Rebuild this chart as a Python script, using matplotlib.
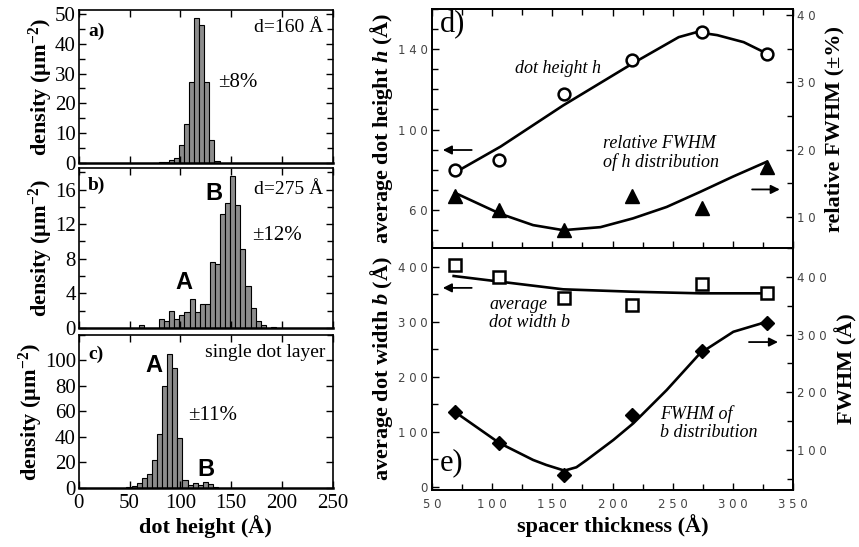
import numpy as np
import matplotlib.pyplot as plt
from matplotlib.ticker import MultipleLocator, FixedLocator, FuncFormatter

plt.rcParams['font.family'] = ['Liberation Serif', 'DejaVu Serif']
plt.rcParams['mathtext.fontset'] = 'custom'
plt.rcParams['mathtext.rm'] = 'Liberation Serif'
plt.rcParams['mathtext.it'] = 'Liberation Serif:italic'
plt.rcParams['mathtext.bf'] = 'Liberation Serif:bold'
plt.rcParams['mathtext.bfit'] = 'Liberation Serif:italic:bold'
plt.rcParams['mathtext.default'] = 'regular'

# ---- histogram data (dot height, bin width 5 A) ----
a_centers = [76, 81, 86, 91, 96, 101, 106, 111, 116, 121, 126, 131, 136]
a_density = [0.1, 0.2, 0.3, 0.9, 1.7, 5.9, 13.0, 27.2, 48.6, 46.4, 27.2, 7.8, 0.8]

b_centers = [61.5, 81.5, 86.5, 91.5, 96.5, 101.5, 106.5, 111.5, 116.5, 121.5, 126.5,
             131.5, 136.5, 141.5, 146.5, 151.5, 156.5, 161.5, 166.5, 171.5, 176.5,
             181.5, 191.5]
b_density = [0.4, 1.0, 0.85, 2.0, 1.0, 1.5, 1.9, 3.3, 1.9, 2.8, 2.8,
             7.6, 7.4, 13.2, 14.5, 17.6, 14.2, 9.1, 4.9, 2.3, 0.85,
             0.4, 0.1]

c_centers = [34.5, 49.5, 54.5, 59.5, 64.5, 69.5, 74.5, 79.5, 84.5, 89.5, 94.5, 99.5,
             104.5, 109.5, 114.5, 119.5, 124.5, 129.5, 134.5]
c_density = [0.3, 0.5, 1.8, 3.9, 7.8, 11.0, 22.0, 42.0, 80.0, 104.7, 94.0, 39.0,
             6.5, 2.6, 3.7, 2.6, 4.4, 3.4, 0.5]

# ---- spacer series ----
spacer = [69, 106, 160, 216, 274, 328]
dot_height = [79.9, 84.8, 117.5, 134.5, 148.6, 137.5]
rel_fwhm_h = [13.15, 11.1, 8.1, 13.2, 11.3, 17.5]
dot_width = [403.6, 381.3, 343.1, 330.9, 369.1, 352.2]
fwhm_b = [166.4, 111.6, 56.6, 160.7, 272.2, 320.7]

# fit curves
h_fit_x = [68, 107, 159, 217, 255, 270, 287, 309, 328]
h_fit_y = [78.2, 91.5, 112.0, 133.0, 146.0, 148.5, 147.0, 143.5, 137.9]
rh_fit_x = [69, 106.5, 134, 159, 190, 217, 245, 273, 300, 328]
rh_fit_y = [13.6, 10.5, 8.8, 8.05, 8.5, 9.8, 11.5, 13.75, 16.0, 18.2]
b_fit_x = [68, 106.5, 159, 217, 273, 328]
b_fit_y = [383.6, 373.3, 359.4, 355.0, 352.1, 352.1]
fb_fit_x = [69, 106, 134, 145, 160, 170, 178.6, 200.7, 217.3, 245, 272.7, 300.4, 328]
fb_fit_y = [166, 112, 82.7, 74, 64.2, 70, 82.7, 117.3, 146.2, 203.8, 267.4, 304.8, 322]

fig = plt.figure(figsize=(8.59, 5.47), dpi=100)

LS = 16   # axis labels
TK = 15   # tick labels, left panels
AN = 14   # annotations, left panels
bar_kw = dict(width=5, color='#8c8c8c', edgecolor='black', linewidth=0.8)


def style_hist(ax, ylim, majors, minor, xlabels=False):
    ax.set_xlim(0, 250)
    ax.set_ylim(*ylim)
    ax.xaxis.set_major_locator(MultipleLocator(50))
    ax.yaxis.set_major_locator(FixedLocator(majors))
    ax.yaxis.set_minor_locator(MultipleLocator(minor))
    ax.tick_params(which='both', direction='in', top=True, right=True,
                   labelsize=TK, width=1, pad=2)
    ax.tick_params(axis='x', pad=4)
    ax.tick_params(which='major', length=5)
    ax.tick_params(which='minor', length=4)
    if not xlabels:
        ax.tick_params(labelbottom=False)
    for s in ax.spines.values():
        s.set_linewidth(1.2)
    ax.spines['bottom'].set_linewidth(1.8)
    ax.set_ylabel('density (µm$^{-2}$)', fontsize=LS, fontweight='bold', labelpad=0)


def letter(ax, x, y, s):
    ax.text(x, y, s, transform=ax.transAxes, fontsize=17, fontweight='bold',
            family='Liberation Sans', ha='center', va='center')


ax_a = fig.add_axes([0.0916, 0.702, 0.296, 0.2797])
ax_a.bar(a_centers, a_density, **bar_kw)
style_hist(ax_a, (0, 51.3), [0, 10, 20, 30, 40, 50], 5)
ax_a.text(0.037, 0.858, 'a)', transform=ax_a.transAxes, fontsize=AN, fontweight='bold', va='center')
ax_a.text(0.961, 0.886, 'd=160 Å', transform=ax_a.transAxes, fontsize=AN, ha='right', va='center')
ax_a.text(0.548, 0.526, '±8%', transform=ax_a.transAxes, fontsize=AN + 1, va='center')

ax_b = fig.add_axes([0.0916, 0.4004, 0.296, 0.2925])
ax_b.bar(b_centers, b_density, **bar_kw)
style_hist(ax_b, (0, 18.5), [0, 4, 8, 12, 16], 2)
ax_b.text(0.037, 0.894, 'b)', transform=ax_b.transAxes, fontsize=AN, fontweight='bold', va='center')
ax_b.text(0.961, 0.866, 'd=275 Å', transform=ax_b.transAxes, fontsize=AN, ha='right', va='center')
ax_b.text(0.681, 0.58, '±12%', transform=ax_b.transAxes, fontsize=AN + 1, va='center')
letter(ax_b, 0.530, 0.8375, 'B')
letter(ax_b, 0.414, 0.284, 'A')

ax_c = fig.add_axes([0.0916, 0.1079, 0.296, 0.2797])
ax_c.bar(c_centers, c_density, **bar_kw)
style_hist(ax_c, (0, 120), [0, 20, 40, 60, 80, 100], 20, xlabels=True)
ax_c.text(0.037, 0.873, 'c)', transform=ax_c.transAxes, fontsize=AN, fontweight='bold', va='center')
ax_c.text(0.972, 0.886, 'single dot layer', transform=ax_c.transAxes, fontsize=AN, ha='right', va='center')
ax_c.text(0.43, 0.474, '±11%', transform=ax_c.transAxes, fontsize=AN + 1, va='center')
letter(ax_c, 0.296, 0.80, 'A')
letter(ax_c, 0.499, 0.121, 'B')
ax_c.set_xlabel('dot height (Å)', fontsize=LS, fontweight='bold', labelpad=2)

# ---- right panels ----
spaced = FuncFormatter(lambda v, p: ' '.join(str(int(round(v)))))
tcol = '#444444'


def style_right(ax, ax2):
    ax.set_xlim(50, 350)
    ax.xaxis.set_major_locator(MultipleLocator(50))
    ax.xaxis.set_minor_locator(MultipleLocator(25))
    for a in (ax, ax2):
        a.tick_params(which='both', direction='in', width=1, colors='black', labelcolor=tcol, pad=3)
        a.tick_params(which='major', length=5)
        a.tick_params(which='minor', length=4)
        for s in a.spines.values():
            s.set_linewidth(1.3)
    ax.yaxis.set_major_formatter(spaced)
    ax2.yaxis.set_major_formatter(spaced)
    ax.xaxis.set_major_formatter(spaced)


arrow_kw = dict(arrowstyle='-|>', color='black', lw=1.3, mutation_scale=13, shrinkA=0, shrinkB=0)

ax_d = fig.add_axes([0.5029, 0.5466, 0.4203, 0.4369])
ax_d2 = ax_d.twinx()
ax_d.plot(h_fit_x, h_fit_y, color='black', lw=1.9)
ax_d.plot(spacer, dot_height, 'o', ms=8.5, mfc='white', mec='black', mew=1.8, clip_on=False)
ax_d2.plot(rh_fit_x, rh_fit_y, color='black', lw=1.9)
ax_d2.plot(spacer, rel_fwhm_h, '^', ms=9.5, color='black', clip_on=False)
ax_d.set_ylim(41, 160)
ax_d2.set_ylim(5.4, 40.9)
ax_d.yaxis.set_major_locator(FixedLocator([60, 100, 140]))
ax_d.yaxis.set_minor_locator(MultipleLocator(10))
ax_d2.yaxis.set_major_locator(MultipleLocator(10))
ax_d2.yaxis.set_minor_locator(MultipleLocator(5))
style_right(ax_d, ax_d2)
ax_d.tick_params(axis='x', which='both', top=True, bottom=True, labelbottom=False)
ax_d.set_ylabel(r'average dot height $\mathbfit{h}$ (Å)', fontsize=LS, fontweight='bold', labelpad=2)
ax_d2.set_ylabel('relative FWHM (±%)', fontsize=LS, fontweight='bold', labelpad=6)
ax_d.text(56.6, 152.4, 'd)', fontsize=22, va='center')
ax_d.text(119, 130.6, 'dot height h', fontsize=13, style='italic', va='center')
ax_d.text(192, 88.3, 'relative FWHM\nof h distribution', fontsize=13, style='italic',
          va='center', linespacing=1.1)
ax_d.annotate('', xy=(59, 89.8), xytext=(83, 89.8), arrowprops=arrow_kw)
ax_d2.annotate('', xy=(339, 14.1), xytext=(316, 14.1), arrowprops=arrow_kw)

ax_e = fig.add_axes([0.5029, 0.1042, 0.4203, 0.4424])
ax_e2 = ax_e.twinx()
ax_e.plot(b_fit_x, b_fit_y, color='black', lw=1.9)
ax_e.plot(spacer, dot_width, 's', ms=8, mfc='white', mec='black', mew=1.8, clip_on=False)
ax_e2.plot(fb_fit_x, fb_fit_y, color='black', lw=1.9)
ax_e2.plot(spacer, fwhm_b, 'D', ms=7.5, color='black', clip_on=False)
ax_e.set_ylim(-5.5, 434.5)
ax_e2.set_ylim(30.6, 450)
ax_e.yaxis.set_major_locator(MultipleLocator(100))
ax_e.yaxis.set_minor_locator(MultipleLocator(50))
ax_e2.yaxis.set_major_locator(MultipleLocator(100))
ax_e2.yaxis.set_minor_locator(MultipleLocator(50))
style_right(ax_e, ax_e2)
ax_e.tick_params(axis='x', which='both', top=False, bottom=True, pad=6)
ax_e.set_ylabel(r'average dot width $\mathbfit{b}$ (Å)', fontsize=LS, fontweight='bold', labelpad=2)
ax_e2.set_ylabel('FWHM (Å)', fontsize=LS, fontweight='bold', labelpad=6)
ax_e.set_xlabel('spacer thickness (Å)', fontsize=LS, fontweight='bold', labelpad=2)
ax_e.text(56.6, 43.6, 'e)', fontsize=22, va='center')
ax_e.text(97.4, 316, 'average\ndot width b', fontsize=13, style='italic', va='center', linespacing=1.1)
ax_e.text(239.5, 116, 'FWHM of\nb distribution', fontsize=13, style='italic', va='center', linespacing=1.1)
ax_e.annotate('', xy=(59, 362), xytext=(83, 362), arrowprops=arrow_kw)
ax_e2.annotate('', xy=(337.5, 287), xytext=(313.4, 287), arrowprops=arrow_kw)

for a in (ax_d, ax_d2, ax_e, ax_e2):
    for lab in a.get_xticklabels() + a.get_yticklabels():
        lab.set_fontfamily('DejaVu Sans')
        lab.set_fontsize(8.5)

fig.savefig('out.png', dpi=100)
